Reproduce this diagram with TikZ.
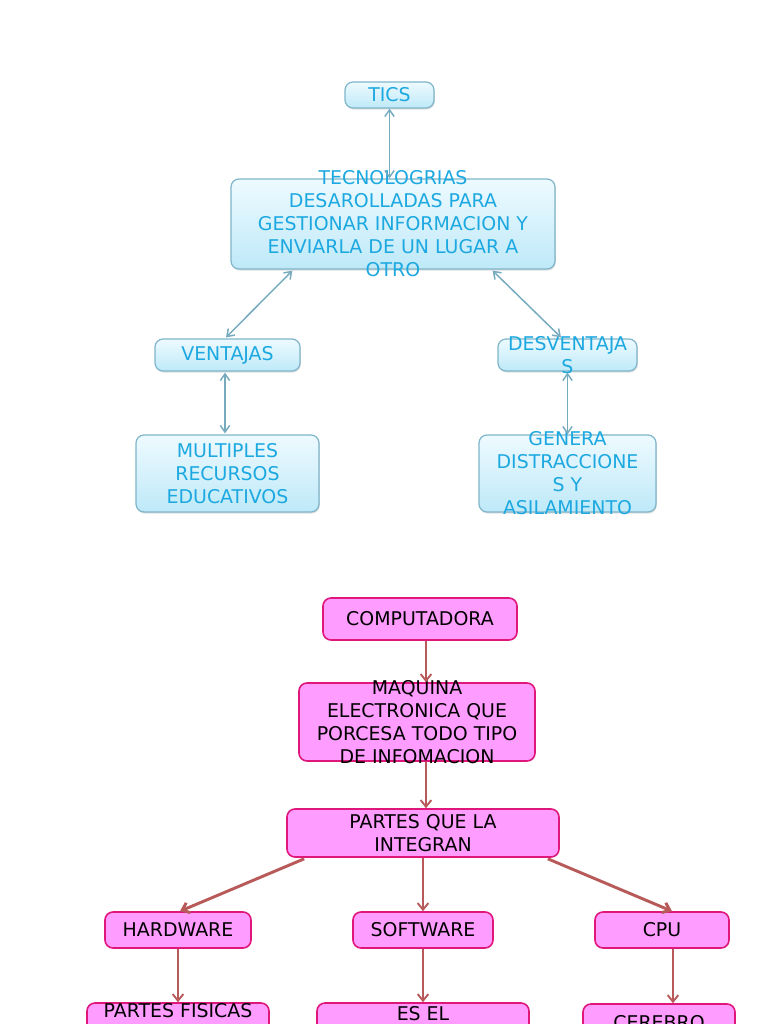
\documentclass[tikz,border=0pt]{standalone}
\usepackage{fontspec}
\setmainfont{DejaVu Sans}
\usepackage{tikz}
\usetikzlibrary{positioning,arrows.meta,shadows,calc}
\definecolor{ticblue}{RGB}{28,168,224}
\definecolor{ticline}{RGB}{127,181,201}
\definecolor{ticarrow}{RGB}{118,170,190}
\definecolor{tictop}{RGB}{238,250,255}
\definecolor{ticbottom}{RGB}{190,233,248}
\definecolor{pcfill}{RGB}{255,156,255}
\definecolor{pcline}{RGB}{224,23,122}
\definecolor{pcarrow}{RGB}{184,90,90}
\tikzstyle{ticbox} = [
rectangle,
rounded corners=6pt,
draw=ticline,
line width=0.9pt,
top color=tictop,
bottom color=ticbottom,
inner sep=0pt,
drop shadow={opacity=0.25,shadow xshift=0.6pt,shadow yshift=-1.2pt}
]
\tikzstyle{tictext} = [
text=ticblue,
align=center,
inner sep=0pt,
font=\fontsize{14.2}{17.25}\selectfont
]
\tikzstyle{pcbox} = [
rectangle,
rounded corners=6pt,
draw=pcline,
line width=1.2pt,
fill=pcfill,
inner sep=0pt
]
\tikzstyle{pctext} = [
text=black,
align=center,
inner sep=0pt,
font=\fontsize{14.2}{17.25}\selectfont
]
\tikzstyle{ticarrow} = [
draw=ticarrow,
line width=1.1pt,
{Straight Barb[length=5pt,width=7pt]}-{Straight Barb[length=5pt,width=7pt]}
]
\tikzstyle{pcarrow} = [
draw=pcarrow,
line width=1.4pt,
-{Straight Barb[length=5pt,width=8pt]}
]
\tikzstyle{pcwide} = [
pcarrow,
line width=2.2pt
]
\begin{document}
\begin{tikzpicture}[x=0.75pt,y=-0.75pt]
					\useasboundingbox (0,0) rectangle (768,1024);
					\clip (0,0) rectangle (768,1024);
					%Nodes
					\node[ticbox,minimum width=66.75pt,minimum height=19.5pt,label={[tictext]center:TICS}] (tics) at (389.5,95) {};
					\node[ticbox,minimum width=243pt,minimum height=67.5pt,label={[tictext]center:TECNOLOGRIAS\\DESAROLLADAS PARA\\GESTIONAR INFORMACION Y\\ENVIARLA DE UN LUGAR A\\OTRO}] (tec) at (393,224) {};
					\node[ticbox,minimum width=108.75pt,minimum height=24pt,label={[tictext]center:VENTAJAS}] (vent) at (227.5,355) {};
					\node[ticbox,minimum width=104.25pt,minimum height=24pt,label={[tictext]center:DESVENTAJA\\S}] (desv) at (567.5,355) {};
					\node[ticbox,minimum width=137.25pt,minimum height=57.75pt,label={[tictext]center:MULTIPLES\\RECURSOS\\EDUCATIVOS}] (mult) at (227.5,473.5) {};
					\node[ticbox,minimum width=132.75pt,minimum height=57.75pt,label={[tictext]center:GENERA\\DISTRACCIONE\\S Y\\ASILAMIENTO}] (gen) at (567.5,473.5) {};
					\node[pcbox,minimum width=145.5pt,minimum height=31.5pt,label={[pctext]center:COMPUTADORA}] (comp) at (420,619) {};
					\node[pcbox,minimum width=177pt,minimum height=58.5pt,label={[pctext]center:MAQUINA\\ELECTRONICA QUE\\PORCESA TODO TIPO\\DE INFOMACION}] (maq) at (417,722) {};
					\node[pcbox,minimum width=204pt,minimum height=36pt,label={[pctext]center:PARTES QUE LA\\INTEGRAN}] (partes) at (423,833) {};
					\node[pcbox,minimum width=109.5pt,minimum height=27pt,label={[pctext]center:HARDWARE}] (hw) at (178,930) {};
					\node[pcbox,minimum width=105pt,minimum height=27pt,label={[pctext]center:SOFTWARE}] (sw) at (423,930) {};
					\node[pcbox,minimum width=100.5pt,minimum height=27pt,label={[pctext]center:CPU}] (cpu) at (662,930) {};
					\node[pcbox,minimum width=136.5pt,minimum height=45pt,label={[pctext,anchor=north,yshift=-0.5pt]north:PARTES FISICAS}] (fis) at (178,1033) {};
					\node[pcbox,minimum width=159pt,minimum height=45pt,label={[pctext,anchor=north,yshift=-3pt]north:ES EL}] (esel) at (423,1033) {};
					\node[pcbox,minimum width=114pt,minimum height=45pt,label={[pctext,anchor=north,yshift=-9pt]north:CEREBRO}] (cer) at (659,1034) {};
					%Arrows
					\draw[ticarrow] ($(tec.north)+(-3.5,0)$) -- (tics.south);
					\draw[ticarrow] ($(tec.south west)+(62,1)$) -- ($(vent.north)+(-1.5,-1)$);
					\draw[ticarrow] ($(tec.south east)+(-63,1)$) -- ($(desv.north)+(-6.5,-1)$);
					\draw[ticarrow] ($(vent.south)+(-2.5,1)$) -- ($(mult.north)+(-2.5,-1)$);
					\draw[ticarrow] ($(desv.south)+(0,1)$) -- ($(gen.north)+(0,0)$);
					\draw[pcarrow] ($(comp.south)+(6,0)$) -- ($(maq.north)+(9,0)$);
					\draw[pcarrow] ($(maq.south)+(9,0)$) -- ($(partes.north)+(3,0)$);
					\draw[pcwide] ($(partes.south west)+(18,1)$) -- ($(hw.north)+(2,0)$);
					\draw[pcarrow] (partes.south) -- (sw.north);
					\draw[pcwide] ($(partes.south east)+(-12,1)$) -- ($(cpu.north)+(10,0)$);
					\draw[pcarrow] (hw.south) -- (fis.north);
					\draw[pcarrow] (sw.south) -- (esel.north);
					\draw[pcarrow] ($(cpu.south)+(11,0)$) -- ($(cer.north)+(14,0)$);
				\end{tikzpicture}
\end{document}
